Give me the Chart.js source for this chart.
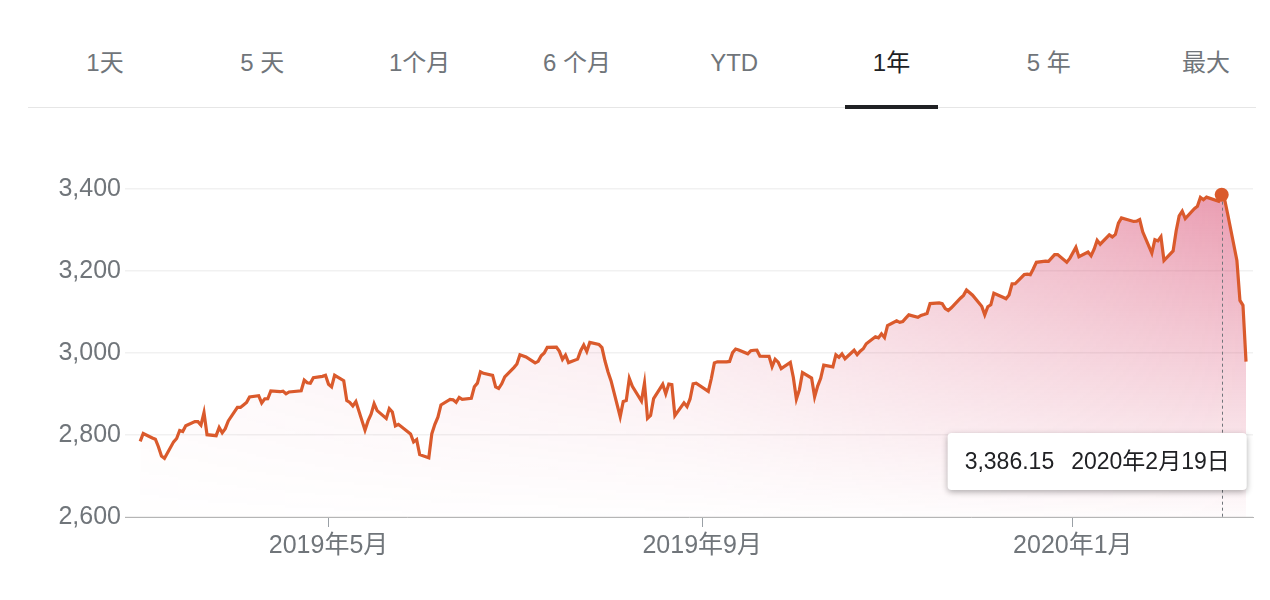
<!DOCTYPE html>
<html>
<head>
<meta charset="utf-8">
<script src="https://cdn.jsdelivr.net/npm/chart.js@4.4.1/dist/chart.umd.min.js"></script>
<style>
  html, body { margin: 0; padding: 0; background: #fff; }
  body {
    width: 1270px; height: 600px; position: relative; overflow: hidden;
    font-family: "Liberation Sans", Arial, "Noto Sans CJK SC", sans-serif;
  }
  .tab {
    position: absolute; top: 44px; width: 150px; margin-left: -75px;
    text-align: center; font-size: 24px; line-height: 38px; color: #70757a;
  }
  .tab.on { color: #202124; }
  .sep { position: absolute; left: 28px; width: 1228px; top: 107px; height: 1px; background: #e6e6e6; }
  .bar { position: absolute; left: 845px; width: 93px; top: 105px; height: 4px; background: #202124; }
  #chart { position: absolute; left: 0; top: 0; }
</style>
</head>
<body>
<div id="tabs"></div>
<div class="sep"></div>
<div class="bar"></div>
<canvas id="chart" width="1270" height="600"></canvas>
<script>
// range tabs
const tabLabels = ["1天", "5 天", "1个月", "6 个月", "YTD", "1年", "5 年", "最大"]
const activeTab = "1年"

// daily closes
const dates = [
  "2019-02-28", "2019-03-01", "2019-03-04", "2019-03-05", "2019-03-06", "2019-03-07", "2019-03-08",
  "2019-03-11", "2019-03-12", "2019-03-13", "2019-03-14", "2019-03-15", "2019-03-18", "2019-03-19",
  "2019-03-20", "2019-03-21", "2019-03-22", "2019-03-25", "2019-03-26", "2019-03-27", "2019-03-28",
  "2019-03-29", "2019-04-01", "2019-04-02", "2019-04-03", "2019-04-04", "2019-04-05", "2019-04-08",
  "2019-04-09", "2019-04-10", "2019-04-11", "2019-04-12", "2019-04-15", "2019-04-16", "2019-04-17",
  "2019-04-18", "2019-04-22", "2019-04-23", "2019-04-24", "2019-04-25", "2019-04-26", "2019-04-29",
  "2019-04-30", "2019-05-01", "2019-05-02", "2019-05-03", "2019-05-06", "2019-05-07", "2019-05-08",
  "2019-05-09", "2019-05-10", "2019-05-13", "2019-05-14", "2019-05-15", "2019-05-16", "2019-05-17",
  "2019-05-20", "2019-05-21", "2019-05-22", "2019-05-23", "2019-05-24", "2019-05-28", "2019-05-29",
  "2019-05-30", "2019-05-31", "2019-06-03", "2019-06-04", "2019-06-05", "2019-06-06", "2019-06-07",
  "2019-06-10", "2019-06-11", "2019-06-12", "2019-06-13", "2019-06-14", "2019-06-17", "2019-06-18",
  "2019-06-19", "2019-06-20", "2019-06-21", "2019-06-24", "2019-06-25", "2019-06-26", "2019-06-27",
  "2019-06-28", "2019-07-01", "2019-07-02", "2019-07-03", "2019-07-05", "2019-07-08", "2019-07-09",
  "2019-07-10", "2019-07-11", "2019-07-12", "2019-07-15", "2019-07-16", "2019-07-17", "2019-07-18",
  "2019-07-19", "2019-07-22", "2019-07-23", "2019-07-24", "2019-07-25", "2019-07-26", "2019-07-29",
  "2019-07-30", "2019-07-31", "2019-08-01", "2019-08-02", "2019-08-05", "2019-08-06", "2019-08-07",
  "2019-08-08", "2019-08-09", "2019-08-12", "2019-08-13", "2019-08-14", "2019-08-15", "2019-08-16",
  "2019-08-19", "2019-08-20", "2019-08-21", "2019-08-22", "2019-08-23", "2019-08-26", "2019-08-27",
  "2019-08-28", "2019-08-29", "2019-08-30", "2019-09-03", "2019-09-04", "2019-09-05", "2019-09-06",
  "2019-09-09", "2019-09-10", "2019-09-11", "2019-09-12", "2019-09-13", "2019-09-16", "2019-09-17",
  "2019-09-18", "2019-09-19", "2019-09-20", "2019-09-23", "2019-09-24", "2019-09-25", "2019-09-26",
  "2019-09-27", "2019-09-30", "2019-10-01", "2019-10-02", "2019-10-03", "2019-10-04", "2019-10-07",
  "2019-10-08", "2019-10-09", "2019-10-10", "2019-10-11", "2019-10-14", "2019-10-15", "2019-10-16",
  "2019-10-17", "2019-10-18", "2019-10-21", "2019-10-22", "2019-10-23", "2019-10-24", "2019-10-25",
  "2019-10-28", "2019-10-29", "2019-10-30", "2019-10-31", "2019-11-01", "2019-11-04", "2019-11-05",
  "2019-11-06", "2019-11-07", "2019-11-08", "2019-11-11", "2019-11-12", "2019-11-13", "2019-11-14",
  "2019-11-15", "2019-11-18", "2019-11-19", "2019-11-20", "2019-11-21", "2019-11-22", "2019-11-25",
  "2019-11-26", "2019-11-27", "2019-11-29", "2019-12-02", "2019-12-03", "2019-12-04", "2019-12-05",
  "2019-12-06", "2019-12-09", "2019-12-10", "2019-12-11", "2019-12-12", "2019-12-13", "2019-12-16",
  "2019-12-17", "2019-12-18", "2019-12-19", "2019-12-20", "2019-12-23", "2019-12-24", "2019-12-26",
  "2019-12-27", "2019-12-30", "2019-12-31", "2020-01-02", "2020-01-03", "2020-01-06", "2020-01-07",
  "2020-01-08", "2020-01-09", "2020-01-10", "2020-01-13", "2020-01-14", "2020-01-15", "2020-01-16",
  "2020-01-17", "2020-01-21", "2020-01-22", "2020-01-23", "2020-01-24", "2020-01-27", "2020-01-28",
  "2020-01-29", "2020-01-30", "2020-01-31", "2020-02-03", "2020-02-04", "2020-02-05", "2020-02-06",
  "2020-02-07", "2020-02-10", "2020-02-11", "2020-02-12", "2020-02-13", "2020-02-14", "2020-02-18",
  "2020-02-19", "2020-02-20", "2020-02-21", "2020-02-24", "2020-02-25", "2020-02-26", "2020-02-27"
]
const closes = [
  2784.49, 2803.69, 2792.81, 2789.65, 2771.45, 2748.93, 2743.07,
  2783.30, 2791.52, 2810.92, 2808.48, 2822.48, 2832.94, 2832.57,
  2824.23, 2854.88, 2800.71, 2798.36, 2818.46, 2805.37, 2815.44,
  2834.40, 2867.19, 2867.24, 2873.40, 2879.39, 2892.74, 2895.77,
  2878.20, 2888.21, 2888.32, 2907.41, 2905.58, 2907.06, 2900.45,
  2905.03, 2907.97, 2933.68, 2927.25, 2926.17, 2939.88, 2943.03,
  2945.83, 2923.73, 2917.52, 2945.64, 2932.47, 2884.05, 2879.42,
  2870.72, 2881.40, 2811.87, 2834.41, 2850.96, 2876.32, 2859.53,
  2840.23, 2864.36, 2856.27, 2822.24, 2826.06, 2802.39, 2783.02,
  2788.86, 2752.06, 2744.45, 2803.27, 2826.15, 2843.49, 2873.34,
  2886.73, 2885.72, 2879.84, 2891.64, 2886.98, 2889.67, 2917.75,
  2926.46, 2954.18, 2950.46, 2945.35, 2917.38, 2913.78, 2924.92,
  2941.76, 2964.33, 2973.01, 2995.82, 2990.41, 2975.95, 2979.63,
  2993.07, 2999.91, 3013.77, 3014.30, 3004.04, 2984.42, 2995.11,
  2976.61, 2985.03, 3005.47, 3019.56, 3003.67, 3025.86, 3020.97,
  3013.18, 2980.38, 2953.56, 2932.05, 2844.74, 2881.77, 2883.98,
  2938.09, 2918.65, 2882.70, 2926.32, 2840.60, 2847.60, 2888.68,
  2923.65, 2900.51, 2924.43, 2922.95, 2847.11, 2878.38, 2869.16,
  2887.94, 2924.58, 2926.46, 2906.27, 2937.78, 2976.00, 2978.71,
  2978.43, 2979.39, 3000.93, 3009.57, 3007.39, 2997.96, 3005.70,
  3006.73, 3006.79, 2992.07, 2991.78, 2966.60, 2984.87, 2977.62,
  2961.79, 2976.74, 2940.25, 2887.61, 2910.63, 2952.01, 2938.79,
  2893.06, 2919.40, 2938.13, 2970.27, 2966.15, 2995.68, 2989.69,
  2997.95, 2986.20, 3006.72, 2995.99, 3004.52, 3010.29, 3022.55,
  3039.42, 3036.89, 3046.77, 3037.56, 3066.91, 3078.27, 3074.62,
  3076.78, 3085.18, 3093.08, 3087.01, 3091.84, 3094.04, 3096.63,
  3120.46, 3122.03, 3120.18, 3108.46, 3103.54, 3110.29, 3133.64,
  3140.52, 3153.63, 3140.98, 3113.87, 3093.20, 3112.76, 3117.43,
  3145.91, 3135.96, 3132.52, 3141.63, 3168.57, 3168.80, 3191.45,
  3192.52, 3191.14, 3205.37, 3221.22, 3224.01, 3223.38, 3239.91,
  3240.02, 3221.29, 3230.78, 3257.85, 3234.85, 3246.28, 3237.18,
  3253.05, 3274.70, 3265.35, 3288.13, 3283.15, 3289.29, 3316.81,
  3329.62, 3320.79, 3321.75, 3325.54, 3295.47, 3243.63, 3276.24,
  3273.40, 3283.66, 3225.52, 3248.92, 3297.59, 3334.69, 3345.78,
  3327.71, 3352.09, 3357.75, 3379.45, 3373.94, 3380.16, 3370.29,
  3386.15, 3373.23, 3337.75, 3225.89, 3128.21, 3116.39, 2978.76
]

// axis ticks
const monthTicks = ["2019-05-01", "2019-09-01", "2020-01-01"]
const priceTicks = [2600, 2800, 3000, 3200, 3400]
const highlightDate = "2020-02-19"

const lineColor = "#da5a2c"
const fontFamily = '"Liberation Sans", Arial, "Noto Sans CJK SC", sans-serif'

const tabsEl = document.getElementById("tabs")
tabLabels.forEach((label, i) => {
  const el = document.createElement("div")
  el.className = "tab" + (label === activeTab ? " on" : "")
  el.style.left = (105 + i * 157.3) + "px"
  el.textContent = label
  tabsEl.appendChild(el)
})

const DAY = 86400000
const EPOCH = Date.UTC(2020, 0, 1)
function dayNum(s) {
  const [y, m, d] = s.split("-").map(Number)
  return (Date.UTC(y, m - 1, d) - EPOCH) / DAY
}
function monthLabel(s) {
  const [y, m] = s.split("-").map(Number)
  return `${y}年${m}月`
}
function dateLabel(s) {
  const [y, m, d] = s.split("-").map(Number)
  return `${y}年${m}月${d}日`
}

const points = closes.map((v, i) => ({ x: dayNum(dates[i]), y: v }))
const focusIndex = dates.indexOf(highlightDate)

// pink fill: fades downwards and towards the left
let fillCache = null
function areaFill(context) {
  const chart = context.chart
  const area = chart.chartArea
  if (!area) return "rgba(0,0,0,0)"
  if (fillCache) return fillCache
  const off = document.createElement("canvas")
  off.width = chart.width
  off.height = chart.height
  const g = off.getContext("2d")
  const v = g.createLinearGradient(0, area.top, 0, area.bottom)
  v.addColorStop(0, "rgba(212,56,98,0.52)")
  v.addColorStop(1, "rgba(212,56,98,0.02)")
  g.fillStyle = v
  g.fillRect(0, 0, off.width, off.height)
  g.globalCompositeOperation = "destination-in"
  const h = g.createLinearGradient(area.left, 0, area.right, 0)
  h.addColorStop(0, "rgba(0,0,0,0.1)")
  h.addColorStop(0.5, "rgba(0,0,0,0.33)")
  h.addColorStop(1, "rgba(0,0,0,1)")
  g.fillStyle = h
  g.fillRect(0, 0, off.width, off.height)
  fillCache = chart.ctx.createPattern(off, "no-repeat")
  return fillCache
}

// dashed guide + value box for the highlighted day
const focusPlugin = {
  id: "focus",
  afterDatasetsDraw(chart) {
    const pt = chart.getDatasetMeta(0).data[focusIndex]
    if (!pt) return
    const { ctx, chartArea } = chart
    const x = Math.round(pt.x) + 0.5
    ctx.save()
    ctx.strokeStyle = "#70757a"
    ctx.lineWidth = 1
    ctx.setLineDash([3, 3])
    ctx.beginPath()
    ctx.moveTo(x, pt.y + 7)
    ctx.lineTo(x, chartArea.bottom)
    ctx.stroke()
    ctx.setLineDash([])

    ctx.font = "23px " + fontFamily
    const valText = closes[focusIndex].toLocaleString("en-US", { minimumFractionDigits: 2 })
    const dateText = dateLabel(highlightDate)
    const w1 = ctx.measureText(valText).width
    const w2 = ctx.measureText(dateText).width
    const gap = 17, padX = 17, boxH = 57
    const boxW = w1 + gap + w2 + padX * 2
    const right = pt.x + 25
    const left = right - boxW
    const top = chartArea.bottom - 84
    ctx.shadowColor = "rgba(0,0,0,0.32)"
    ctx.shadowBlur = 6
    ctx.shadowOffsetY = 2
    ctx.fillStyle = "#fff"
    ctx.beginPath()
    ctx.roundRect(left, top, boxW, boxH, 4)
    ctx.fill()
    ctx.shadowColor = "transparent"
    ctx.fillStyle = "#202124"
    ctx.textBaseline = "middle"
    ctx.fillText(valText, left + padX, top + boxH / 2 + 1)
    ctx.fillText(dateText, left + padX + w1 + gap, top + boxH / 2 + 1)
    ctx.restore()
  }
}

new Chart(document.getElementById("chart"), {
  type: "line",
  data: {
    datasets: [{
      data: points,
      borderColor: lineColor,
      borderWidth: 3.2,
      backgroundColor: areaFill,
      fill: "start",
      tension: 0,
      clip: false,
      pointRadius: (c) => c.dataIndex === focusIndex ? 7 : 0,
      pointBackgroundColor: lineColor,
      pointBorderWidth: 0
    }]
  },
  options: {
    responsive: false,
    animation: false,
    devicePixelRatio: 1,
    events: [],
    layout: { padding: { top: 189, right: 17, left: 0, bottom: 0 } },
    plugins: { legend: { display: false }, tooltip: { enabled: false } },
    scales: {
      x: {
        type: "linear",
        min: dayNum(dates[0]) - 5,
        max: dayNum(dates[dates.length - 1]) + 2.3,
        afterBuildTicks: (scale) => { scale.ticks = monthTicks.map(d => ({ value: dayNum(d) })) },
        afterFit: (scale) => { scale.height = 83 },
        grid: { drawOnChartArea: false, drawTicks: true, tickLength: 10, color: "#9aa0a6" },
        border: { display: true, color: "#b5b5b5", width: 1 },
        ticks: {
          padding: 4,
          color: "#70757a",
          font: { family: fontFamily, size: 25 },
          maxRotation: 0,
          callback: (value) => {
            const d = monthTicks.find(m => dayNum(m) === value)
            return d ? monthLabel(d) : ""
          }
        }
      },
      y: {
        min: priceTicks[0],
        max: priceTicks[priceTicks.length - 1],
        afterBuildTicks: (scale) => { scale.ticks = priceTicks.map(v => ({ value: v })) },
        afterFit: (scale) => { scale.width = 125 },
        grid: { color: "#f1f1f1", lineWidth: 1.5, drawTicks: false },
        border: { display: false },
        ticks: {
          padding: 4,
          color: "#70757a",
          font: { family: fontFamily, size: 25 },
          callback: (value) => value.toLocaleString("en-US")
        }
      }
    }
  },
  plugins: [focusPlugin]
})
</script>
</body>
</html>
